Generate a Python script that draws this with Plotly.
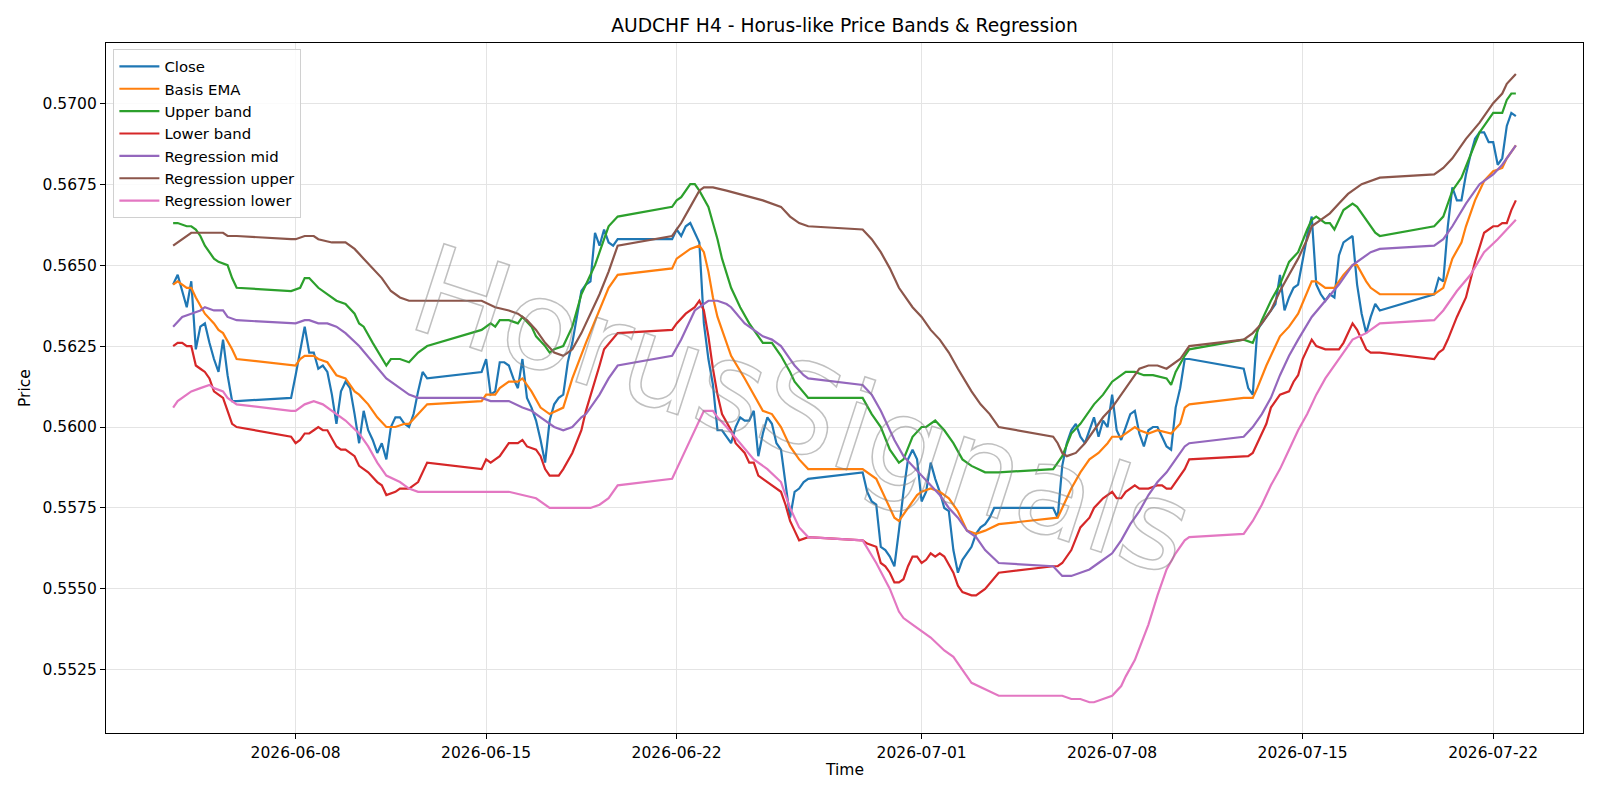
import plotly.graph_objects as go

YEAR = "2026"
HOURS = ["00", "04", "08", "12", "16", "20"]
_ = None

# ---- Close: one row per trading day, values at 00,04,08,12,16,20 ----
close_by_day = {
    "06-03": [_, _, _, 0.5644, 0.5647, 0.5642],
    "06-04": [0.5637, 0.5645, 0.5624, 0.5631, 0.5632, 0.5626],
    "06-05": [0.5621, 0.5617, 0.5627, 0.5616, 0.5608, 0.5608],
    "06-07": [_, _, _, _, _, 0.5609],
    "06-08": [0.5616, 0.5624, 0.5631, 0.5623, 0.5623, 0.5618],
    "06-09": [0.5619, 0.5617, 0.5610, 0.5601, 0.5611, 0.5614],
    "06-10": [0.5612, 0.5604, 0.5595, 0.5605, 0.5599, 0.5596],
    "06-11": [0.5592, 0.5595, 0.5590, 0.5600, 0.5603, 0.5603],
    "06-12": [0.5601, 0.5600, 0.5604, 0.5611, 0.5617, 0.5615],
    "06-14": [_, _, _, _, _, 0.5617],
    "06-15": [0.5621, 0.5610, 0.5611, 0.5620, 0.5620, 0.5619],
    "06-16": [0.5615, 0.5612, 0.5621, 0.5609, 0.5606, 0.5602],
    "06-17": [0.5596, 0.5589, 0.5602, 0.5607, 0.5609, 0.5610],
    "06-18": [0.5620, 0.5626, 0.5634, 0.5642, 0.5644, 0.5645],
    "06-19": [0.5660, 0.5656, 0.5661, 0.5657, 0.5656, 0.5658],
    "06-21": [_, _, _, _, _, 0.5658],
    "06-22": [0.5661, 0.5659, 0.5662, 0.5663, 0.5660, 0.5657],
    "06-23": [0.5632, 0.5621, 0.5613, 0.5599, 0.5599, 0.5597],
    "06-24": [0.5595, 0.5600, 0.5603, 0.5602, 0.5602, 0.5605],
    "06-25": [0.5591, 0.5598, 0.5603, 0.5601, 0.5595, 0.5593],
    "06-26": [0.5583, 0.5572, 0.5580, 0.5581, 0.5583, 0.5584],
    "06-28": [_, _, _, _, _, 0.5586],
    "06-29": [0.5580, 0.5577, 0.5576, 0.5563, 0.5562, 0.5560],
    "06-30": [0.5557, 0.5568, 0.5580, 0.5590, 0.5593, 0.5590],
    "07-01": [0.5577, 0.5580, 0.5589, 0.5584, 0.5580, 0.5575],
    "07-02": [0.5574, 0.5562, 0.5555, 0.5559, 0.5561, 0.5563],
    "07-03": [0.5567, 0.5569, 0.5570, 0.5572, 0.5575, 0.5575],
    "07-05": [_, _, _, _, _, 0.5575],
    "07-06": [0.5572, 0.5588, 0.5595, 0.5599, 0.5601, 0.5597],
    "07-07": [0.5595, 0.5599, 0.5603, 0.5597, 0.5602, 0.5600],
    "07-08": [0.5610, 0.5599, 0.5596, 0.5600, 0.5604, 0.5605],
    "07-09": [0.5598, 0.5594, 0.5599, 0.5600, 0.5600, 0.5597],
    "07-10": [0.5594, 0.5593, 0.5606, 0.5612, 0.5621, 0.5621],
    "07-12": [_, _, _, _, _, 0.5618],
    "07-13": [0.5612, 0.5610, 0.5630, 0.5632, 0.5634, 0.5636],
    "07-14": [0.5638, 0.5647, 0.5636, 0.5640, 0.5643, 0.5644],
    "07-15": [0.5652, 0.5659, 0.5665, 0.5644, 0.5641, 0.5639],
    "07-16": [0.5641, 0.5640, 0.5653, 0.5657, 0.5658, 0.5659],
    "07-17": [0.5644, 0.5635, 0.5629, 0.5634, 0.5638, 0.5636],
    "07-19": [_, _, _, _, _, 0.5641],
    "07-20": [0.5646, 0.5645, 0.5662, 0.5674, 0.5670, 0.5670],
    "07-21": [0.5678, 0.5684, 0.5689, 0.5691, 0.5691, 0.5688],
    "07-22": [0.5688, 0.5681, 0.5683, 0.5693, 0.5697, 0.5696],
}

# ---- Smooth series: (MM-DD HH, value) ----
basis_ema = [
    ("06-03 12", 0.5644), ("06-03 16", 0.5645), ("06-04 00", 0.5643), ("06-04 04", 0.5643),
    ("06-04 08", 0.5640), ("06-04 16", 0.5635), ("06-05 00", 0.5632), ("06-05 04", 0.5630),
    ("06-05 08", 0.5629), ("06-05 16", 0.5624), ("06-05 20", 0.5621),
    ("06-07 20", 0.5619), ("06-08 00", 0.5619), ("06-08 04", 0.5621), ("06-08 08", 0.5622),
    ("06-08 16", 0.5622), ("06-08 20", 0.5621), ("06-09 04", 0.5620), ("06-09 12", 0.5616),
    ("06-09 20", 0.5615), ("06-10 04", 0.5611), ("06-10 08", 0.5610), ("06-10 16", 0.5607),
    ("06-11 00", 0.5603), ("06-11 08", 0.5600), ("06-11 16", 0.5600), ("06-12 00", 0.5601),
    ("06-12 04", 0.5601), ("06-12 12", 0.5604), ("06-12 20", 0.5607),
    ("06-14 20", 0.5608), ("06-15 00", 0.5610), ("06-15 08", 0.5610), ("06-15 12", 0.5612),
    ("06-15 20", 0.5614), ("06-16 04", 0.5614), ("06-16 08", 0.5615), ("06-16 16", 0.5611),
    ("06-17 00", 0.5606), ("06-17 08", 0.5604), ("06-17 20", 0.5606), ("06-18 04", 0.5615),
    ("06-18 16", 0.5626), ("06-19 04", 0.5636), ("06-19 12", 0.5643), ("06-19 20", 0.5647),
    ("06-21 20", 0.5649), ("06-22 00", 0.5652), ("06-22 12", 0.5655), ("06-22 20", 0.5656),
    ("06-23 00", 0.5654), ("06-23 04", 0.5648), ("06-23 08", 0.5640), ("06-23 12", 0.5634),
    ("06-23 16", 0.5630), ("06-24 00", 0.5622), ("06-24 12", 0.5615), ("06-24 20", 0.5610),
    ("06-25 04", 0.5605), ("06-25 12", 0.5604), ("06-25 20", 0.5600), ("06-26 04", 0.5594),
    ("06-26 12", 0.5590), ("06-26 20", 0.5587),
    ("06-28 20", 0.5587), ("06-29 08", 0.5584), ("06-29 20", 0.5575), ("06-30 00", 0.5572),
    ("06-30 04", 0.5571), ("06-30 08", 0.5573), ("06-30 20", 0.5579), ("07-01 00", 0.5580),
    ("07-01 08", 0.5581), ("07-01 16", 0.5580), ("07-02 00", 0.5578), ("07-02 08", 0.5574),
    ("07-02 16", 0.5568), ("07-03 00", 0.5567), ("07-03 08", 0.5568), ("07-03 20", 0.5570),
    ("07-05 20", 0.5572), ("07-06 00", 0.5572), ("07-06 04", 0.5575), ("07-06 12", 0.5581),
    ("07-06 20", 0.5586), ("07-07 04", 0.5590), ("07-07 12", 0.5592), ("07-07 20", 0.5595),
    ("07-08 00", 0.5597), ("07-08 08", 0.5597), ("07-08 20", 0.5600), ("07-09 00", 0.5599),
    ("07-09 08", 0.5598), ("07-09 16", 0.5599), ("07-10 04", 0.5598), ("07-10 12", 0.5601),
    ("07-10 16", 0.5606), ("07-10 20", 0.5607),
    ("07-12 20", 0.5609), ("07-13 04", 0.5609), ("07-13 08", 0.5612), ("07-13 16", 0.5619),
    ("07-14 00", 0.5625), ("07-14 04", 0.5628), ("07-14 12", 0.5631), ("07-14 20", 0.5635),
    ("07-15 08", 0.5645), ("07-15 12", 0.5645), ("07-15 20", 0.5643), ("07-16 04", 0.5643),
    ("07-16 12", 0.5647), ("07-16 20", 0.5650), ("07-17 00", 0.5650), ("07-17 08", 0.5645),
    ("07-17 12", 0.5643), ("07-17 20", 0.5641),
    ("07-19 20", 0.5641), ("07-20 04", 0.5643), ("07-20 12", 0.5652), ("07-20 20", 0.5657),
    ("07-21 00", 0.5662), ("07-21 08", 0.5670), ("07-21 16", 0.5676), ("07-22 00", 0.5679),
    ("07-22 08", 0.5680), ("07-22 12", 0.5683), ("07-22 20", 0.5687),
]

upper_band = [
    ("06-03 12", 0.5663), ("06-03 16", 0.5663), ("06-04 00", 0.5662), ("06-04 04", 0.5662),
    ("06-04 08", 0.5661), ("06-04 12", 0.5659), ("06-04 16", 0.5656), ("06-04 20", 0.5654),
    ("06-05 00", 0.5652), ("06-05 04", 0.5651), ("06-05 12", 0.5650), ("06-05 16", 0.5646),
    ("06-05 20", 0.5643),
    ("06-07 20", 0.5642), ("06-08 04", 0.5643), ("06-08 08", 0.5646), ("06-08 12", 0.5646),
    ("06-08 20", 0.5643), ("06-09 04", 0.5641), ("06-09 12", 0.5639), ("06-09 20", 0.5638),
    ("06-10 04", 0.5635), ("06-10 08", 0.5632), ("06-10 12", 0.5631), ("06-10 20", 0.5626),
    ("06-11 08", 0.5619), ("06-11 12", 0.5621), ("06-11 20", 0.5621), ("06-12 04", 0.5620),
    ("06-12 12", 0.5623), ("06-12 20", 0.5625),
    ("06-14 20", 0.5630), ("06-15 04", 0.5632), ("06-15 08", 0.5631), ("06-15 12", 0.5633),
    ("06-15 20", 0.5633), ("06-16 04", 0.5632), ("06-16 08", 0.5634), ("06-16 16", 0.5631),
    ("06-16 20", 0.5628), ("06-17 04", 0.5625), ("06-17 08", 0.5623), ("06-17 12", 0.5624),
    ("06-17 20", 0.5625), ("06-18 04", 0.5631), ("06-18 12", 0.5641), ("06-18 20", 0.5647),
    ("06-19 00", 0.5650), ("06-19 08", 0.5658), ("06-19 12", 0.5662), ("06-19 20", 0.5665),
    ("06-21 20", 0.5668), ("06-22 00", 0.5670), ("06-22 04", 0.5671), ("06-22 12", 0.5675),
    ("06-22 16", 0.5675), ("06-22 20", 0.5673), ("06-23 04", 0.5668), ("06-23 08", 0.5663),
    ("06-23 12", 0.5658), ("06-23 16", 0.5652), ("06-24 00", 0.5643), ("06-24 08", 0.5637),
    ("06-24 16", 0.5632), ("06-25 00", 0.5628), ("06-25 04", 0.5626), ("06-25 12", 0.5626),
    ("06-25 20", 0.5622), ("06-26 04", 0.5617), ("06-26 08", 0.5614), ("06-26 20", 0.5609),
    ("06-28 20", 0.5609), ("06-29 04", 0.5604), ("06-29 12", 0.5600), ("06-29 20", 0.5593),
    ("06-30 04", 0.5589), ("06-30 08", 0.5590), ("06-30 16", 0.5597), ("07-01 00", 0.5600),
    ("07-01 04", 0.5600), ("07-01 12", 0.5602), ("07-01 20", 0.5599), ("07-02 04", 0.5595),
    ("07-02 12", 0.5590), ("07-02 20", 0.5588), ("07-03 08", 0.5586), ("07-03 20", 0.5586),
    ("07-05 20", 0.5587), ("07-06 04", 0.5591), ("07-06 12", 0.5598), ("07-06 20", 0.5601),
    ("07-07 08", 0.5607), ("07-07 16", 0.5610), ("07-08 00", 0.5614), ("07-08 12", 0.5617),
    ("07-08 20", 0.5617), ("07-09 04", 0.5616), ("07-09 12", 0.5616), ("07-10 00", 0.5615),
    ("07-10 04", 0.5613), ("07-10 08", 0.5617), ("07-10 16", 0.5622), ("07-10 20", 0.5624),
    ("07-12 20", 0.5627), ("07-13 04", 0.5626), ("07-13 12", 0.5633), ("07-13 20", 0.5639),
    ("07-14 04", 0.5644), ("07-14 12", 0.5651), ("07-14 20", 0.5654), ("07-15 04", 0.5661),
    ("07-15 08", 0.5664), ("07-15 12", 0.5665), ("07-15 20", 0.5663), ("07-16 00", 0.5663),
    ("07-16 04", 0.5661), ("07-16 12", 0.5667), ("07-16 20", 0.5669), ("07-17 00", 0.5668),
    ("07-17 08", 0.5664), ("07-17 16", 0.5660), ("07-17 20", 0.5659),
    ("07-19 20", 0.5662), ("07-20 04", 0.5665), ("07-20 12", 0.5673), ("07-20 20", 0.5677),
    ("07-21 04", 0.5684), ("07-21 12", 0.5691), ("07-21 16", 0.5693), ("07-22 00", 0.5697),
    ("07-22 08", 0.5697), ("07-22 12", 0.5701), ("07-22 16", 0.5703), ("07-22 20", 0.5703),
]

lower_band = [
    ("06-03 12", 0.5625), ("06-03 16", 0.5626), ("06-03 20", 0.5626), ("06-04 00", 0.5625),
    ("06-04 04", 0.5625), ("06-04 08", 0.5619), ("06-04 12", 0.5618), ("06-04 16", 0.5617),
    ("06-04 20", 0.5615), ("06-05 00", 0.5611), ("06-05 04", 0.5610), ("06-05 08", 0.5609),
    ("06-05 12", 0.5605), ("06-05 16", 0.5601), ("06-05 20", 0.5600),
    ("06-07 20", 0.5597), ("06-08 00", 0.5595), ("06-08 04", 0.5596), ("06-08 08", 0.5598),
    ("06-08 12", 0.5598), ("06-08 16", 0.5599), ("06-08 20", 0.5600), ("06-09 00", 0.5599),
    ("06-09 04", 0.5599), ("06-09 12", 0.5594), ("06-09 16", 0.5593), ("06-09 20", 0.5593),
    ("06-10 04", 0.5591), ("06-10 08", 0.5588), ("06-10 16", 0.5586), ("06-11 00", 0.5583),
    ("06-11 04", 0.5582), ("06-11 08", 0.5579), ("06-11 16", 0.5580), ("06-11 20", 0.5581),
    ("06-12 04", 0.5581), ("06-12 12", 0.5583), ("06-12 16", 0.5586), ("06-12 20", 0.5589),
    ("06-14 20", 0.5587), ("06-15 00", 0.5590), ("06-15 04", 0.5589), ("06-15 12", 0.5591),
    ("06-15 20", 0.5595), ("06-16 04", 0.5595), ("06-16 08", 0.5596), ("06-16 12", 0.5594),
    ("06-16 20", 0.5593), ("06-17 00", 0.5591), ("06-17 04", 0.5587), ("06-17 08", 0.5585),
    ("06-17 16", 0.5585), ("06-17 20", 0.5587), ("06-18 04", 0.5592), ("06-18 12", 0.5599),
    ("06-18 16", 0.5605), ("06-19 00", 0.5614), ("06-19 04", 0.5619), ("06-19 08", 0.5624),
    ("06-19 20", 0.5629),
    ("06-21 20", 0.5630), ("06-22 00", 0.5632), ("06-22 08", 0.5635), ("06-22 16", 0.5637),
    ("06-22 20", 0.5639), ("06-23 00", 0.5636), ("06-23 04", 0.5628), ("06-23 08", 0.5618),
    ("06-23 12", 0.5610), ("06-23 16", 0.5604), ("06-24 00", 0.5599), ("06-24 04", 0.5595),
    ("06-24 12", 0.5592), ("06-24 16", 0.5589), ("06-24 20", 0.5589), ("06-25 00", 0.5585),
    ("06-25 04", 0.5584), ("06-25 12", 0.5582), ("06-25 20", 0.5580), ("06-26 00", 0.5576),
    ("06-26 04", 0.5571), ("06-26 08", 0.5568), ("06-26 12", 0.5565), ("06-26 20", 0.5566),
    ("06-28 20", 0.5565), ("06-29 00", 0.5564), ("06-29 08", 0.5563), ("06-29 12", 0.5558),
    ("06-29 16", 0.5557), ("06-29 20", 0.5555), ("06-30 00", 0.5552), ("06-30 04", 0.5552),
    ("06-30 08", 0.5553), ("06-30 12", 0.5557), ("06-30 16", 0.5560), ("06-30 20", 0.5560),
    ("07-01 00", 0.5558), ("07-01 04", 0.5559), ("07-01 08", 0.5561), ("07-01 12", 0.5560),
    ("07-01 16", 0.5561), ("07-01 20", 0.5560), ("07-02 04", 0.5555), ("07-02 08", 0.5551),
    ("07-02 12", 0.5549), ("07-02 20", 0.5548), ("07-03 00", 0.5548), ("07-03 08", 0.5550),
    ("07-03 20", 0.5555),
    ("07-05 20", 0.5557), ("07-06 00", 0.5557), ("07-06 04", 0.5558), ("07-06 12", 0.5562),
    ("07-06 20", 0.5569), ("07-07 04", 0.5572), ("07-07 08", 0.5575), ("07-07 16", 0.5578),
    ("07-08 00", 0.5580), ("07-08 04", 0.5578), ("07-08 08", 0.5578), ("07-08 12", 0.5580),
    ("07-08 20", 0.5582), ("07-09 00", 0.5581), ("07-09 08", 0.5581), ("07-09 16", 0.5582),
    ("07-09 20", 0.5582), ("07-10 00", 0.5581), ("07-10 04", 0.5581), ("07-10 08", 0.5583),
    ("07-10 16", 0.5587), ("07-10 20", 0.5590),
    ("07-12 20", 0.5591), ("07-13 00", 0.5591), ("07-13 04", 0.5592), ("07-13 08", 0.5595),
    ("07-13 16", 0.5601), ("07-13 20", 0.5606), ("07-14 04", 0.5610), ("07-14 12", 0.5611),
    ("07-14 16", 0.5614), ("07-14 20", 0.5616), ("07-15 00", 0.5621), ("07-15 08", 0.5627),
    ("07-15 12", 0.5625), ("07-15 20", 0.5624), ("07-16 04", 0.5624), ("07-16 08", 0.5624),
    ("07-16 12", 0.5626), ("07-16 20", 0.5632), ("07-17 00", 0.5630), ("07-17 08", 0.5624),
    ("07-17 12", 0.5623), ("07-17 20", 0.5623),
    ("07-19 20", 0.5621), ("07-20 00", 0.5623), ("07-20 04", 0.5624), ("07-20 08", 0.5627),
    ("07-20 16", 0.5634), ("07-21 00", 0.5640), ("07-21 08", 0.5651), ("07-21 16", 0.5660),
    ("07-22 00", 0.5662), ("07-22 04", 0.5662), ("07-22 08", 0.5663), ("07-22 12", 0.5663),
    ("07-22 16", 0.5667), ("07-22 20", 0.5670),
]

regression_mid = [
    ("06-03 12", 0.5631), ("06-03 20", 0.5634), ("06-04 04", 0.5635), ("06-04 12", 0.5636),
    ("06-04 16", 0.5637), ("06-05 00", 0.5636), ("06-05 08", 0.5636), ("06-05 12", 0.5634),
    ("06-05 20", 0.5633),
    ("06-07 20", 0.5632), ("06-08 00", 0.5632), ("06-08 08", 0.5633), ("06-08 12", 0.5633),
    ("06-08 20", 0.5632), ("06-09 04", 0.5632), ("06-09 12", 0.5631), ("06-09 20", 0.5629),
    ("06-10 08", 0.5625), ("06-10 20", 0.5620), ("06-11 08", 0.5615), ("06-11 16", 0.5613),
    ("06-12 04", 0.5610), ("06-12 12", 0.5609), ("06-12 20", 0.5609),
    ("06-14 20", 0.5609), ("06-15 04", 0.5608), ("06-15 12", 0.5608), ("06-15 20", 0.5608),
    ("06-16 08", 0.5606), ("06-16 16", 0.5605), ("06-17 00", 0.5603), ("06-17 08", 0.5601),
    ("06-17 12", 0.5600), ("06-17 20", 0.5599), ("06-18 04", 0.5600), ("06-18 12", 0.5603),
    ("06-18 16", 0.5604), ("06-19 04", 0.5610), ("06-19 12", 0.5615), ("06-19 20", 0.5619),
    ("06-21 20", 0.5622), ("06-22 04", 0.5627), ("06-22 08", 0.5630), ("06-22 16", 0.5636),
    ("06-22 20", 0.5637), ("06-23 04", 0.5639), ("06-23 12", 0.5639), ("06-23 20", 0.5638),
    ("06-24 00", 0.5637), ("06-24 12", 0.5632), ("06-24 20", 0.5630), ("06-25 04", 0.5628),
    ("06-25 12", 0.5627), ("06-25 20", 0.5625), ("06-26 04", 0.5621), ("06-26 08", 0.5619),
    ("06-26 16", 0.5616), ("06-26 20", 0.5615),
    ("06-28 20", 0.5613), ("06-29 04", 0.5610), ("06-29 12", 0.5605), ("06-29 16", 0.5602),
    ("06-30 00", 0.5596), ("06-30 08", 0.5591), ("06-30 16", 0.5588), ("07-01 00", 0.5585),
    ("07-01 08", 0.5582), ("07-01 16", 0.5579), ("07-02 00", 0.5575), ("07-02 08", 0.5572),
    ("07-02 16", 0.5568), ("07-03 00", 0.5566), ("07-03 08", 0.5562), ("07-03 20", 0.5558),
    ("07-05 20", 0.5557), ("07-06 04", 0.5554), ("07-06 12", 0.5554), ("07-06 20", 0.5555),
    ("07-07 04", 0.5556), ("07-07 12", 0.5558), ("07-08 00", 0.5561), ("07-08 08", 0.5565),
    ("07-08 16", 0.5570), ("07-09 00", 0.5574), ("07-09 08", 0.5579), ("07-09 16", 0.5583),
    ("07-10 00", 0.5586), ("07-10 08", 0.5590), ("07-10 16", 0.5594), ("07-10 20", 0.5595),
    ("07-12 20", 0.5597), ("07-13 04", 0.5600), ("07-13 12", 0.5604), ("07-13 20", 0.5609),
    ("07-14 04", 0.5616), ("07-14 12", 0.5622), ("07-14 20", 0.5627), ("07-15 08", 0.5634),
    ("07-15 20", 0.5639), ("07-16 08", 0.5644), ("07-16 20", 0.5650), ("07-17 04", 0.5652),
    ("07-17 12", 0.5654), ("07-17 20", 0.5655),
    ("07-19 20", 0.5656), ("07-20 04", 0.5658), ("07-20 12", 0.5662), ("07-21 00", 0.5669),
    ("07-21 12", 0.5675), ("07-22 00", 0.5678), ("07-22 08", 0.5681), ("07-22 20", 0.5687),
]

regression_upper = [
    ("06-03 12", 0.5656), ("06-03 16", 0.5657), ("06-04 00", 0.5659), ("06-04 04", 0.5660),
    ("06-04 12", 0.5660), ("06-05 00", 0.5660), ("06-05 08", 0.5660), ("06-05 12", 0.5659),
    ("06-05 20", 0.5659),
    ("06-07 20", 0.5658), ("06-08 00", 0.5658), ("06-08 08", 0.5659), ("06-08 16", 0.5659),
    ("06-08 20", 0.5658), ("06-09 08", 0.5657), ("06-09 20", 0.5657), ("06-10 04", 0.5655),
    ("06-10 12", 0.5652), ("06-10 20", 0.5649), ("06-11 04", 0.5646), ("06-11 12", 0.5642),
    ("06-11 20", 0.5640), ("06-12 04", 0.5639), ("06-12 20", 0.5639),
    ("06-14 20", 0.5639), ("06-15 08", 0.5637), ("06-15 20", 0.5636), ("06-16 04", 0.5635),
    ("06-16 12", 0.5633), ("06-16 20", 0.5630), ("06-17 04", 0.5626), ("06-17 12", 0.5623),
    ("06-17 20", 0.5622), ("06-18 00", 0.5623), ("06-18 04", 0.5624), ("06-18 12", 0.5629),
    ("06-18 20", 0.5635), ("06-19 04", 0.5641), ("06-19 12", 0.5648), ("06-19 20", 0.5656),
    ("06-21 20", 0.5659), ("06-22 04", 0.5663), ("06-22 12", 0.5668), ("06-22 20", 0.5673),
    ("06-23 00", 0.5674), ("06-23 08", 0.5674), ("06-23 20", 0.5673), ("06-24 16", 0.5671),
    ("06-25 04", 0.5670), ("06-25 20", 0.5668), ("06-26 04", 0.5665), ("06-26 12", 0.5663),
    ("06-26 20", 0.5662),
    ("06-28 20", 0.5661), ("06-29 04", 0.5658), ("06-29 12", 0.5654), ("06-29 20", 0.5649),
    ("06-30 04", 0.5643), ("06-30 08", 0.5641), ("06-30 16", 0.5637), ("07-01 00", 0.5634),
    ("07-01 08", 0.5630), ("07-01 16", 0.5627), ("07-02 00", 0.5623), ("07-02 08", 0.5618),
    ("07-02 20", 0.5611), ("07-03 04", 0.5607), ("07-03 12", 0.5604), ("07-03 20", 0.5600),
    ("07-05 20", 0.5597), ("07-06 00", 0.5595), ("07-06 04", 0.5592), ("07-06 08", 0.5591),
    ("07-06 16", 0.5592), ("07-07 00", 0.5595), ("07-07 08", 0.5599), ("07-07 16", 0.5603),
    ("07-08 00", 0.5606), ("07-08 08", 0.5610), ("07-08 16", 0.5614), ("07-09 00", 0.5618),
    ("07-09 08", 0.5619), ("07-09 16", 0.5619), ("07-10 00", 0.5618), ("07-10 04", 0.5619),
    ("07-10 12", 0.5621), ("07-10 20", 0.5625),
    ("07-12 20", 0.5627), ("07-13 04", 0.5629), ("07-13 12", 0.5632), ("07-13 20", 0.5636),
    ("07-14 04", 0.5642), ("07-14 12", 0.5647), ("07-14 20", 0.5652), ("07-15 04", 0.5658),
    ("07-15 08", 0.5662), ("07-15 16", 0.5664), ("07-16 00", 0.5666), ("07-16 08", 0.5669),
    ("07-16 16", 0.5672), ("07-17 04", 0.5675), ("07-17 12", 0.5676), ("07-17 20", 0.5677),
    ("07-19 20", 0.5678), ("07-20 04", 0.5680), ("07-20 12", 0.5683), ("07-21 00", 0.5689),
    ("07-21 12", 0.5694), ("07-22 00", 0.5700), ("07-22 08", 0.5703), ("07-22 12", 0.5706),
    ("07-22 20", 0.5709),
]

regression_lower = [
    ("06-03 12", 0.5606), ("06-03 16", 0.5608), ("06-04 00", 0.5610), ("06-04 04", 0.5611),
    ("06-04 12", 0.5612), ("06-04 20", 0.5613), ("06-05 00", 0.5612), ("06-05 08", 0.5611),
    ("06-05 12", 0.5609), ("06-05 16", 0.5608), ("06-05 20", 0.5607),
    ("06-07 20", 0.5605), ("06-08 00", 0.5605), ("06-08 08", 0.5607), ("06-08 16", 0.5608),
    ("06-09 00", 0.5607), ("06-09 04", 0.5606), ("06-09 12", 0.5604), ("06-09 20", 0.5602),
    ("06-10 08", 0.5598), ("06-10 16", 0.5594), ("06-11 00", 0.5589), ("06-11 08", 0.5585),
    ("06-11 20", 0.5583), ("06-12 04", 0.5581), ("06-12 12", 0.5580), ("06-12 20", 0.5580),
    ("06-14 20", 0.5580), ("06-15 08", 0.5580), ("06-15 20", 0.5580), ("06-16 08", 0.5579),
    ("06-16 20", 0.5578), ("06-17 08", 0.5575), ("06-17 20", 0.5575), ("06-18 08", 0.5575),
    ("06-18 20", 0.5575), ("06-19 04", 0.5576), ("06-19 12", 0.5578), ("06-19 20", 0.5582),
    ("06-21 20", 0.5584), ("06-22 04", 0.5590), ("06-22 12", 0.5596), ("06-22 20", 0.5602),
    ("06-23 00", 0.5605), ("06-23 08", 0.5605), ("06-23 12", 0.5603), ("06-23 20", 0.5600),
    ("06-24 08", 0.5595), ("06-24 20", 0.5590), ("06-25 08", 0.5587), ("06-25 20", 0.5583),
    ("06-26 04", 0.5575), ("06-26 12", 0.5569), ("06-26 20", 0.5566),
    ("06-28 20", 0.5565), ("06-29 08", 0.5558), ("06-29 20", 0.5550), ("06-30 04", 0.5543),
    ("06-30 08", 0.5541), ("06-30 16", 0.5539), ("07-01 00", 0.5537), ("07-01 08", 0.5535),
    ("07-01 20", 0.5531), ("07-02 04", 0.5529), ("07-02 12", 0.5525), ("07-02 20", 0.5521),
    ("07-03 08", 0.5519), ("07-03 20", 0.5517),
    ("07-05 20", 0.5517), ("07-06 04", 0.5517), ("07-06 12", 0.5516), ("07-06 20", 0.5516),
    ("07-07 04", 0.5515), ("07-07 08", 0.5515), ("07-07 16", 0.5516), ("07-08 00", 0.5517),
    ("07-08 08", 0.5520), ("07-08 12", 0.5523), ("07-08 20", 0.5528), ("07-09 04", 0.5535),
    ("07-09 08", 0.5539), ("07-09 16", 0.5548), ("07-10 00", 0.5556), ("07-10 08", 0.5561),
    ("07-10 16", 0.5565), ("07-10 20", 0.5566),
    ("07-12 20", 0.5567), ("07-13 04", 0.5571), ("07-13 12", 0.5576), ("07-13 20", 0.5582),
    ("07-14 04", 0.5587), ("07-14 12", 0.5593), ("07-14 20", 0.5599), ("07-15 04", 0.5604),
    ("07-15 12", 0.5610), ("07-15 20", 0.5615), ("07-16 04", 0.5619), ("07-16 12", 0.5623),
    ("07-16 20", 0.5627), ("07-17 08", 0.5629), ("07-17 12", 0.5630), ("07-17 20", 0.5632),
    ("07-19 20", 0.5633), ("07-20 04", 0.5636), ("07-20 16", 0.5642), ("07-21 04", 0.5647),
    ("07-21 16", 0.5654), ("07-22 04", 0.5658), ("07-22 20", 0.5664),
]

SERIES_NAMES = ["Close", "Basis EMA", "Upper band", "Lower band",
                "Regression mid", "Regression upper", "Regression lower"]
COLORS = ["#1f77b4", "#ff7f0e", "#2ca02c", "#d62728", "#9467bd", "#8c564b", "#e377c2"]

X_TICKS = ["2026-06-08", "2026-06-15", "2026-06-22", "2026-07-01",
           "2026-07-08", "2026-07-15", "2026-07-22"]
Y_TICKS = [0.5525, 0.5550, 0.5575, 0.5600, 0.5625, 0.5650, 0.5675, 0.5700]
X_RANGE = ["2026-06-01 00:48", "2026-07-25 07:12"]
Y_RANGE = [0.55055, 0.57186]

TITLE = "AUDCHF H4 - Horus-like Price Bands & Regression"
WATERMARK = "HorusSignals"


def stamp(md_h):
    md, h = md_h.split(" ")
    return f"{YEAR}-{md} {h}:00"


def from_day_table(table):
    xs, ys = [], []
    for md, vals in table.items():
        for h, v in zip(HOURS, vals):
            if v is not None:
                xs.append(stamp(f"{md} {h}"))
                ys.append(v)
    return xs, ys


def from_pairs(pairs):
    return [stamp(t) for t, _v in pairs], [v for _t, v in pairs]


series_data = [from_day_table(close_by_day), from_pairs(basis_ema), from_pairs(upper_band),
               from_pairs(lower_band), from_pairs(regression_mid),
               from_pairs(regression_upper), from_pairs(regression_lower)]

FONT = "DejaVu Sans"

fig = go.Figure()
for name, color, (xs, ys) in zip(SERIES_NAMES, COLORS, series_data):
    fig.add_trace(go.Scatter(x=xs, y=ys, mode="lines", name=name,
                             line=dict(color=color, width=2.2)))

axis_common = dict(showline=True, mirror=True, linecolor="black", linewidth=1.2,
                   showgrid=True, gridcolor="#e4e4e4", gridwidth=1,
                   ticks="outside", ticklen=5, tickwidth=1.1, tickcolor="black",
                   tickfont=dict(family=FONT, size=15.5, color="black"), zeroline=False)

fig.update_layout(
    width=1600, height=800,
    margin=dict(l=106, r=17, t=43, b=67),
    paper_bgcolor="white", plot_bgcolor="white",
    font=dict(family=FONT, color="black"),
    title=dict(text=TITLE, x=844.5 / 1600, xanchor="center", y=1 - 25.5 / 800,
               yanchor="middle", xref="container", yref="container",
               font=dict(family=FONT, size=18.7, color="black")),
    xaxis=dict(type="date", range=X_RANGE, tickvals=X_TICKS, ticktext=X_TICKS, **axis_common),
    yaxis=dict(range=Y_RANGE, tickvals=Y_TICKS, tickformat=".4f", **axis_common),
    legend=dict(x=0.005, y=0.991, xanchor="left", yanchor="top",
                bgcolor="rgba(255,255,255,0.85)", bordercolor="#d0d0d0", borderwidth=1,
                font=dict(family=FONT, size=14.9, color="black"), itemwidth=40),
    showlegend=True,
)

fig.add_annotation(text="Time", xref="paper", yref="paper", x=0.5, y=(733 - 770) / 690,
                   xanchor="center", yanchor="middle", showarrow=False,
                   font=dict(family=FONT, size=15.5, color="black"))
fig.add_annotation(text="Price", xref="paper", yref="paper", x=(25 - 106) / 1477, y=0.5,
                   xanchor="center", yanchor="middle", textangle=-90, showarrow=False,
                   font=dict(family=FONT, size=15.5, color="black"))
fig.add_annotation(text=WATERMARK, xref="paper", yref="paper",
                   x=(802 - 106) / 1477, y=(733 - 410) / 690,
                   xanchor="center", yanchor="middle", textangle=18, showarrow=False,
                   font=dict(family=FONT, size=124, color="rgba(140,140,140,0.4)"))

post = """
(function(){
  var gd = document.getElementById('{plot_id}');
  function hollow(){
    var ts = gd.querySelectorAll('text.annotation-text');
    ts.forEach(function(t){
      if (t.textContent === 'HorusSignals') {
        t.style.fill = 'none';
        t.style.stroke = 'rgba(130,130,130,0.5)';
        t.style.strokeWidth = '1.5px';
      }
    });
  }
  hollow();
  if (gd.on) { gd.on('plotly_afterplot', hollow); }
})();
"""

fig.write_html("out.html", post_script=post)
